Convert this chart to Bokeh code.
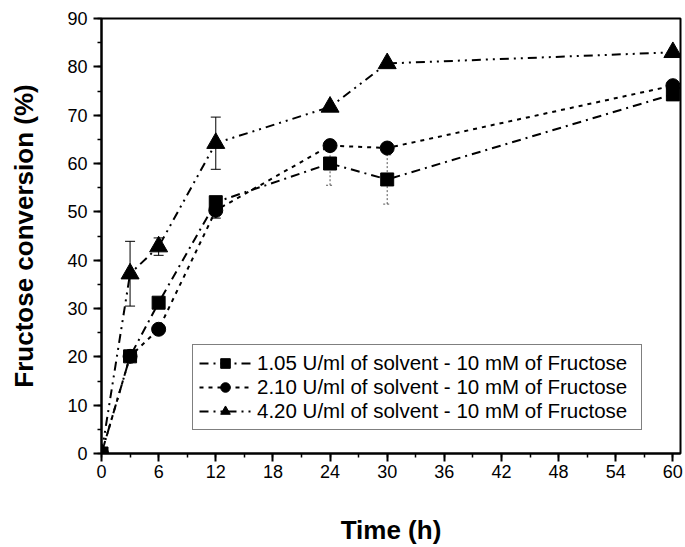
from bokeh.plotting import figure
from bokeh.models import (Range1d, SingleIntervalTicker, Whisker, ColumnDataSource,
                          Legend, LegendItem, TeeHead)
from bokeh.embed import file_html
from bokeh.resources import INLINE

# ---- data ----
time_h = [0, 3, 6, 12, 24, 30, 60]
conv_105 = [0, 20.1, 31.2, 52.0, 60.0, 56.7, 74.3]
err_105 = [0, 0, 0, 0, 4.5, 5.1, 0]
conv_210 = [0, 20.1, 25.7, 50.3, 63.7, 63.2, 76.1]
err_210 = [0, 0, 0, 1.6, 0, 0, 0]
conv_420 = [0, 37.2, 42.8, 64.2, 71.7, 80.7, 83.0]
err_420 = [0, 6.7, 1.8, 5.4, 0, 0, 0]

labels = ["1.05 U/ml of solvent - 10 mM of Fructose",
          "2.10 U/ml of solvent - 10 mM of Fructose",
          "4.20 U/ml of solvent - 10 mM of Fructose"]

FONT = "Liberation Sans"

p = figure(width=685, height=547, output_backend="svg", toolbar_location=None,
           x_range=Range1d(0, 60.8), y_range=Range1d(0, 90),
           min_border_left=101, min_border_right=5, min_border_top=18,
           min_border_bottom=90)
p.xgrid.visible = False
p.ygrid.visible = False
p.background_fill_color = "white"
p.border_fill_color = "white"
p.outline_line_color = "black"
p.outline_line_width = 2
p.outline_line_alpha = 1.0

p.xaxis.ticker = SingleIntervalTicker(interval=6, num_minor_ticks=2)
p.yaxis.ticker = SingleIntervalTicker(interval=10, num_minor_ticks=2)
for ax in (p.xaxis, p.yaxis):
    ax.axis_line_width = 2
    ax.axis_line_color = "black"
    ax.major_tick_line_color = "black"
    ax.minor_tick_line_color = "black"
    ax.major_tick_line_width = 2
    ax.minor_tick_line_width = 1.5
    ax.major_tick_in = 0
    ax.major_tick_out = 8
    ax.minor_tick_in = 0
    ax.minor_tick_out = 4
    ax.major_label_text_font = FONT
    ax.major_label_text_font_size = "18px"
    ax.major_label_text_color = "black"
    ax.axis_label_text_font = FONT
    ax.axis_label_text_font_size = "26px"
    ax.axis_label_text_font_style = "bold"
    ax.axis_label_text_color = "black"
p.xaxis.axis_label = "Time (h)"
p.yaxis.axis_label = "Fructose conversion (%)"
p.xaxis.major_label_standoff = 3
p.yaxis.major_label_standoff = 6
p.xaxis.axis_label_standoff = 34
p.yaxis.axis_label_standoff = 25


def add_err(vals, errs, color, dash, cap):
    xs = [t for t, e in zip(time_h, errs) if e > 0]
    up = [v + e for v, e in zip(vals, errs) if e > 0]
    lo = [v - e for v, e in zip(vals, errs) if e > 0]
    src = ColumnDataSource(dict(x=xs, upper=up, lower=lo))
    w = Whisker(base="x", upper="upper", lower="lower", source=src,
                line_color=color, line_width=1, line_dash=dash,
                upper_head=TeeHead(size=cap, line_color=color, line_width=1, line_dash=dash),
                lower_head=TeeHead(size=cap, line_color=color, line_width=1, line_dash=dash))
    p.add_layout(w)


add_err(conv_105, err_105, "#555555", "2 2", 8)
add_err(conv_210, err_210, "black", "solid", 10)
add_err(conv_420, err_420, "black", "solid", 10)

items = []
l1 = p.line(time_h, conv_105, line_color="black", line_width=2, line_dash="9 5 2 5")
m1 = p.scatter(time_h, conv_105, marker="square", size=13, fill_color="black", line_color="black")
items.append(LegendItem(label=labels[0], renderers=[l1, m1]))

l2 = p.line(time_h, conv_210, line_color="black", line_width=2, line_dash="4 5")
m2 = p.scatter(time_h, conv_210, marker="circle", size=14, fill_color="black", line_color="black")
items.append(LegendItem(label=labels[1], renderers=[l2, m2]))

l3 = p.line(time_h, conv_420, line_color="black", line_width=2, line_dash="9 5 2 5 2 5")
m3 = p.scatter(time_h, conv_420, marker="triangle", size=18, fill_color="black", line_color="black")
items.append(LegendItem(label=labels[2], renderers=[l3, m3]))

legend = Legend(items=items, location=(91, 23), margin=0, padding=6, spacing=0,
                label_height=24, glyph_height=24, glyph_width=52, label_standoff=6,
                label_width=378, label_text_font=FONT, label_text_font_size="20.5px",
                label_text_color="black", border_line_color="black",
                border_line_width=1, background_fill_color="white",
                background_fill_alpha=1.0)
p.add_layout(legend)

open("out.html", "w").write(file_html(p, INLINE))
